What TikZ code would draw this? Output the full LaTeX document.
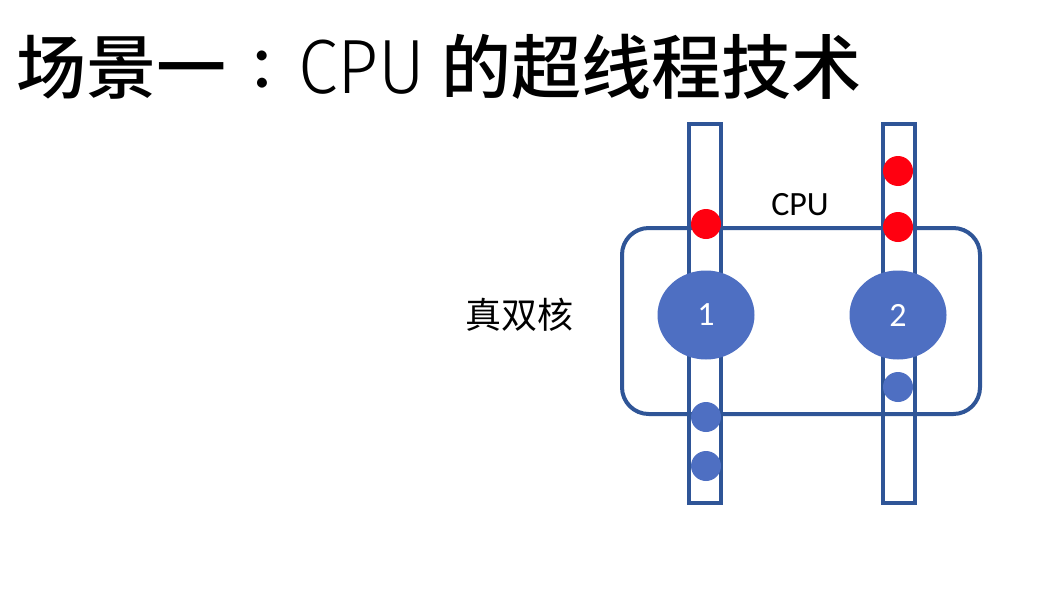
\documentclass[tikz,border=0pt]{standalone}
\usepackage{fontspec}
\usepackage{graphicx}
\usetikzlibrary{shapes.geometric}
\newfontfamily\cjk{Noto Sans CJK SC}
\newfontfamily\cjkm{Noto Sans CJK SC Medium}
\newfontfamily\lat{Carlito}
\newfontfamily\thin{Fira Sans Light}
\definecolor{edgeblue}{HTML}{2F5597}
\definecolor{fillblue}{HTML}{4E6FC2}
\definecolor{dotred}{HTML}{FF0010}
\begin{document}
\begin{tikzpicture}[x=0.75pt,y=-0.75pt,
  bar/.style={draw=edgeblue,line width=2.6pt},
  cpubox/.style={draw=edgeblue,line width=3pt,rounded corners=20pt},
  core/.style={ellipse,fill=fillblue,inner sep=0pt,minimum width=72.75pt,minimum height=66.75pt},
  dot/.style={circle,inner sep=0pt,minimum size=22.5pt,draw=none},
  reddot/.style={dot,fill=dotred},
  bluedot/.style={dot,fill=fillblue}]
\useasboundingbox (0,0) rectangle (1041,589);
\fill[white] (0,0) rectangle (1041,589);
% title
\node[anchor=base west,inner sep=0pt] (title) at (16,93)
  {\fontsize{52.5pt}{60pt}\cjkm 场景一\hspace{18.75pt}{\fontsize{61.7pt}{70pt}\lat\raisebox{4.5pt}{:}}\hspace{18.75pt}{\fontsize{57.7pt}{70pt}\thin\scalebox{0.93}[1]{CPU}}\hspace{12pt}\cjkm 的超线程技术};
% bars
\draw[bar] (689,124) rectangle (721,503);
\draw[bar] (883,124) rectangle (915,503);
% cpu box
\draw[cpubox] (622,228) rectangle (980,414);
% cores
\node[core] (c1) at (706,315) {\color{white}\fontsize{25.5pt}{30pt}\lat 1};
\node[core] (c2) at (898,315) {\color{white}\fontsize{25.5pt}{30pt}\lat 2};
% dots
\node[reddot] (r1) at (706,224) {};
\node[reddot] (r2) at (898,171) {};
\node[reddot] (r3) at (898,227) {};
\node[bluedot] (b1) at (898,387) {};
\node[bluedot] (b2) at (706,417) {};
\node[bluedot] (b3) at (706,466) {};
% labels
\node (cpu) at (800,205) {\fontsize{25.5pt}{30pt}\lat CPU};
\node (zsh) at (519,315) {\fontsize{27pt}{32pt}\cjk 真双核};
\end{tikzpicture}
\end{document}
